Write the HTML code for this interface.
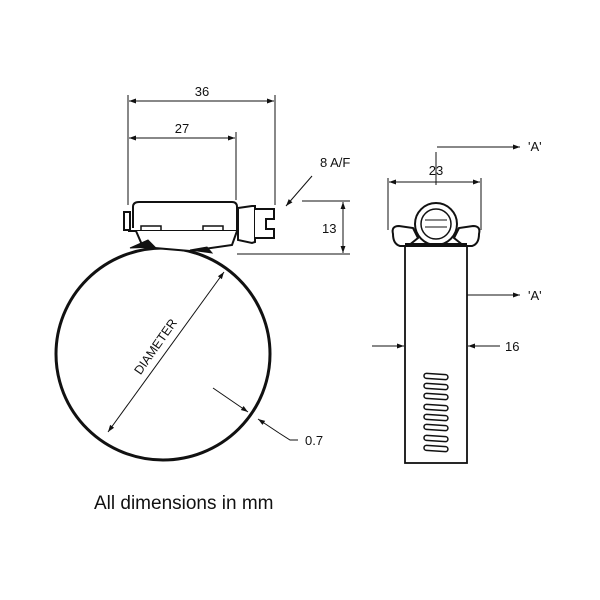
<!DOCTYPE html>
<html><head><style>
body{margin:0;background:#fff}
svg{display:block}
text{font-family:"Liberation Sans",sans-serif;fill:#111}
</style></head><body>
<svg width="600" height="600" viewBox="0 0 600 600">
<defs>
<marker id="a" viewBox="0 0 10 10" refX="10" refY="5" markerWidth="9" markerHeight="7" orient="auto-start-reverse" markerUnits="userSpaceOnUse"><path d="M0,1.5L10,5L0,8.5z" fill="#111"/></marker>
</defs>
<g stroke="#111" fill="none" stroke-width="1">
<line x1="128" y1="95" x2="128" y2="205"/>
<line x1="275" y1="95" x2="275" y2="205"/>
<line x1="236" y1="132" x2="236" y2="200"/>
<line x1="129" y1="101" x2="274" y2="101" marker-start="url(#a)" marker-end="url(#a)"/>
<line x1="129" y1="138" x2="235" y2="138" marker-start="url(#a)" marker-end="url(#a)"/>
<line x1="312" y1="176" x2="286" y2="206" marker-end="url(#a)"/>
<line x1="302" y1="201" x2="350" y2="201"/>
<line x1="237" y1="254" x2="350" y2="254"/>
<line x1="343" y1="202" x2="343" y2="253" marker-start="url(#a)" marker-end="url(#a)"/>
<ellipse cx="163" cy="354" rx="107" ry="106" stroke-width="3"/>
<line x1="108" y1="432" x2="224" y2="272" marker-start="url(#a)" marker-end="url(#a)"/>
<line x1="213" y1="388" x2="248" y2="412" marker-end="url(#a)"/>
<line x1="279" y1="433" x2="258" y2="419" marker-end="url(#a)"/>
<polyline points="279,433 290,440 298,440"/>
<path d="M133,228 L133,207 Q133,202 139,202 L232,202 Q237,202 237,207 L237,231" stroke-width="2" fill="#fff"/>
<rect x="124" y="212" width="6" height="18" stroke-width="2" fill="#fff"/>
<line x1="128" y1="231" x2="237" y2="231" stroke-width="2"/>
<rect x="141" y="226" width="20" height="5" stroke-width="1.5"/>
<rect x="203" y="226" width="20" height="5" stroke-width="1.5"/>
<path d="M136,231 L143,247 L190,251 L232,245 L237,231" stroke-width="2" fill="#fff"/>
<path d="M238,208 L252,206 L255,206 L255,242 L252,243 L238,240 z" stroke-width="2" fill="#fff"/>
<path d="M255,209 L274,209 L274,219 L266,219 L266,229 L274,229 L274,238 L255,238" stroke-width="2" fill="#fff"/>
<path d="M130,248 L148,240 L155,247 z" fill="#111"/>
<path d="M190,250 L207,247 L212,253 z" fill="#111"/>
<line x1="388" y1="178" x2="388" y2="230"/>
<line x1="481" y1="178" x2="481" y2="230"/>
<line x1="389" y1="182" x2="480" y2="182" marker-start="url(#a)" marker-end="url(#a)"/>
<line x1="436" y1="152" x2="436" y2="185"/>
<line x1="437" y1="147" x2="520" y2="147" marker-end="url(#a)"/>
<line x1="436" y1="262" x2="436" y2="295"/>
<line x1="436" y1="295" x2="520" y2="295" marker-end="url(#a)"/>
<line x1="372" y1="346" x2="404" y2="346" marker-end="url(#a)"/>
<line x1="500" y1="346" x2="468" y2="346" marker-end="url(#a)"/>
<rect x="405" y="246" width="62" height="217" stroke-width="1.8" fill="#fff"/>
<path d="M393,234 Q391,226 399,226 L413,228 L418,238 L408,246 L400,246 Q393,244 393,234z" stroke-width="2" fill="#fff"/>
<path d="M479,234 Q481,226 473,226 L459,228 L454,238 L464,246 L472,246 Q479,244 479,234z" stroke-width="2" fill="#fff"/>
<circle cx="436" cy="224" r="21" stroke-width="2" fill="#fff"/>
<circle cx="436" cy="224" r="15" stroke-width="1.5"/>
<line x1="425" y1="220" x2="447" y2="220"/><line x1="425" y1="227" x2="447" y2="227"/>
<rect x="405" y="243" width="62" height="4" fill="#111" stroke="none"/>
<g stroke-width="1.5">
<rect x="424" y="374" width="24" height="5" rx="2.5" transform="rotate(4 436 376)"/>
<rect x="424" y="384" width="24" height="5" rx="2.5" transform="rotate(4 436 386)"/>
<rect x="424" y="394" width="24" height="5" rx="2.5" transform="rotate(4 436 396)"/>
<rect x="424" y="405" width="24" height="5" rx="2.5" transform="rotate(4 436 407)"/>
<rect x="424" y="415" width="24" height="5" rx="2.5" transform="rotate(4 436 417)"/>
<rect x="424" y="425" width="24" height="5" rx="2.5" transform="rotate(4 436 427)"/>
<rect x="424" y="436" width="24" height="5" rx="2.5" transform="rotate(4 436 438)"/>
<rect x="424" y="446" width="24" height="5" rx="2.5" transform="rotate(4 436 448)"/>
</g>
</g>
<text x="202" y="96" font-size="13" text-anchor="middle">36</text>
<text x="182" y="133" font-size="13" text-anchor="middle">27</text>
<text x="320" y="167" font-size="13">8 A/F</text>
<text x="322" y="233" font-size="13">13</text>
<text x="436" y="175" font-size="13" text-anchor="middle">23</text>
<text x="528" y="151" font-size="13">'A'</text>
<text x="528" y="300" font-size="13">'A'</text>
<text x="505" y="351" font-size="13">16</text>
<text x="305" y="445" font-size="13">0.7</text>
<text x="0" y="0" font-size="12.5" text-anchor="middle" transform="translate(159,349) rotate(-55)">DIAMETER</text>
<text x="94" y="509" font-size="19">All dimensions in mm</text>
</svg>
</body></html>
